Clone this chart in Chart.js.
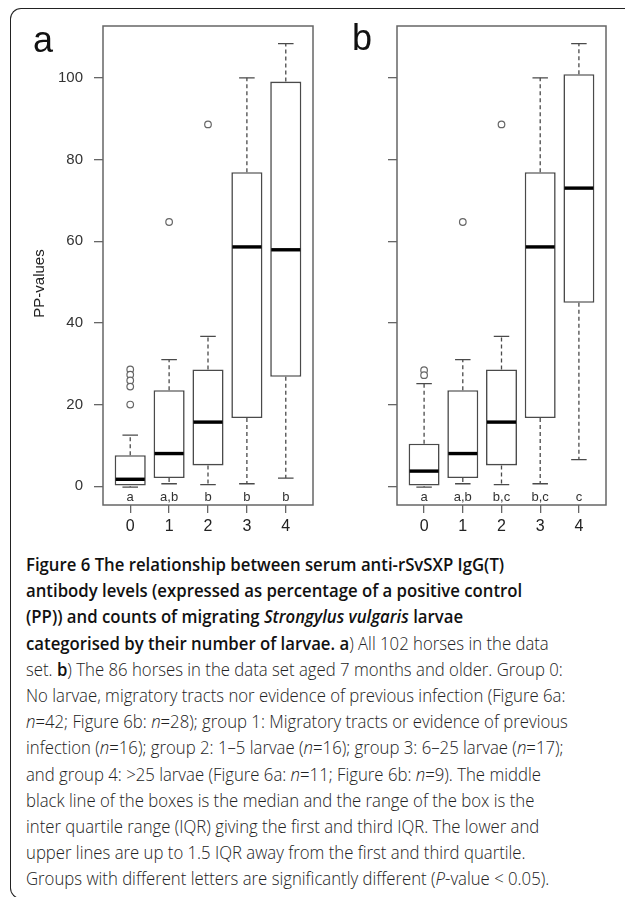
<!DOCTYPE html>
<html>
<head>
<meta charset="utf-8">
<script src="https://cdn.jsdelivr.net/npm/chart.js@4.4.1/dist/chart.umd.min.js"></script>
<style>
  body { margin: 0; background: #fff; width: 625px; height: 897px; overflow: hidden; position: relative; font-family: "Liberation Sans", Arial, sans-serif; }
  .frame { position: absolute; left: 10px; top: 8px; width: 660px; height: 889px; border: 1.5px solid #222; border-right: none; border-radius: 11px 0 0 11px; }
  #wrapA { position: absolute; left: 0; top: 0; width: 320px; height: 545px; }
  #wrapB { position: absolute; left: 300px; top: 0; width: 325px; height: 545px; }
  .panel { position: absolute; font-size: 36px; line-height: 1; color: #111; }
  .caption { position: absolute; left: 26px; top: 551px; font-family: "Open Sans", sans-serif; font-size: 18px; font-weight: 300; line-height: 26.2px; color: #222; white-space: nowrap; transform-origin: left top; transform: scaleX(0.93); }
  .caption b { font-weight: 600; color: #111; }
</style>
</head>
<body>
<div class="frame"></div>
<div id="wrapA"><canvas id="chartA"></canvas></div>
<div id="wrapB"><canvas id="chartB"></canvas></div>
<div class="panel" style="left:33px;top:22px;">a</div>
<div class="panel" style="left:352px;top:20px;">b</div>
<div class="caption">
<b>Figure 6 The relationship between serum anti-rSvSXP IgG(T)</b><br>
<b>antibody levels (expressed as percentage of a positive control</b><br>
<b>(PP)) and counts of migrating <i>Strongylus vulgaris</i> larvae</b><br>
<b>categorised by their number of larvae. a</b>) All 102 horses in the data<br>
set. <b>b</b>) The 86 horses in the data set aged 7 months and older. Group 0:<br>
No larvae, migratory tracts nor evidence of previous infection (Figure 6a:<br>
<i>n</i>=42; Figure 6b: <i>n</i>=28); group 1: Migratory tracts or evidence of previous<br>
infection (<i>n</i>=16); group 2: 1–5 larvae (<i>n</i>=16); group 3: 6–25 larvae (<i>n</i>=17);<br>
and group 4: &gt;25 larvae (Figure 6a: <i>n</i>=11; Figure 6b: <i>n</i>=9). The middle<br>
black line of the boxes is the median and the range of the box is the<br>
inter quartile range (IQR) giving the first and third IQR. The lower and<br>
upper lines are up to 1.5 IQR away from the first and third quartile.<br>
Groups with different letters are significantly different (<i>P</i>-value &lt; 0.05).
</div>
<script>
const groups = ["0", "1", "2", "3", "4"];
const yTicks = [0, 20, 40, 60, 80, 100];

// a) all 102 horses
const aLow = [-0.2, 0.6, 0.4, 0.6, 2.0];
const aQ1 = [0, 2.0, 5.1, 16.7, 26.8];
const aMed = [1.7, 8.0, 15.7, 58.6, 57.9];
const aQ3 = [7.6, 23.5, 28.6, 76.9, 99.1];
const aHigh = [12.5, 31.0, 36.7, 100, 108.4];
const aOutGroup = [0, 0, 0, 0, 0, 1, 2];
const aOutValue = [28.6, 27.3, 25.9, 24.4, 20.0, 64.7, 88.6];
const aLetters = ["a", "a,b", "b", "b", "b"];

// b) 86 horses aged 7 months and older
const bLow = [-0.2, 0.6, 0.4, 0.6, 6.5];
const bQ1 = [0, 2.0, 5.1, 16.7, 44.9];
const bMed = [3.7, 8.0, 15.7, 58.6, 73.0];
const bQ3 = [10.4, 23.5, 28.6, 76.9, 100.9];
const bHigh = [25.1, 31.0, 36.7, 100, 108.4];
const bOutGroup = [0, 0, 1, 2];
const bOutValue = [28.4, 27.2, 64.7, 88.6];
const bLetters = ["a", "a,b", "b,c", "b,c", "c"];

const gray = "#4a4a4a";

// whiskers, staples, medians, frame and letters
const boxParts = {
  id: "boxParts",
  afterDatasetsDraw(chart, args, o) {
    const { ctx, chartArea: area, scales: { x, y } } = chart;
    const bars = chart.getDatasetMeta(0).data;
    ctx.save();
    groups.forEach((g, i) => {
      const cx = x.getPixelForValue(i);
      const w = bars[i].width;
      ctx.strokeStyle = gray;
      ctx.lineWidth = 1.3;
      ctx.setLineDash([4, 3]);
      ctx.beginPath();
      ctx.moveTo(cx, y.getPixelForValue(o.q3[i]));
      ctx.lineTo(cx, y.getPixelForValue(o.high[i]));
      ctx.moveTo(cx, y.getPixelForValue(o.q1[i]));
      ctx.lineTo(cx, y.getPixelForValue(o.low[i]));
      ctx.stroke();
      ctx.setLineDash([]);
      ctx.beginPath();
      [o.high[i], o.low[i]].forEach(v => {
        ctx.moveTo(cx - w / 4, y.getPixelForValue(v));
        ctx.lineTo(cx + w / 4, y.getPixelForValue(v));
      });
      ctx.stroke();
      ctx.strokeStyle = "#000";
      ctx.lineWidth = 3.4;
      ctx.beginPath();
      ctx.moveTo(cx - w / 2 + 1, y.getPixelForValue(o.med[i]));
      ctx.lineTo(cx + w / 2 - 1, y.getPixelForValue(o.med[i]));
      ctx.stroke();
      ctx.fillStyle = "#333";
      ctx.font = "13px 'Liberation Sans', Arial";
      ctx.textAlign = "center";
      ctx.textBaseline = "middle";
      ctx.fillText(o.letters[i], cx, area.bottom - 8);
    });
    ctx.strokeStyle = "#666";
    ctx.lineWidth = 1.5;
    ctx.strokeRect(area.left, area.top, area.right - area.left, area.bottom - area.top);
    if (o.ylab) {
      ctx.translate(area.left - 63, (area.top + area.bottom) / 2 + 18);
      ctx.rotate(-Math.PI / 2);
      ctx.fillStyle = "#222";
      ctx.font = "15px 'Liberation Sans', Arial";
      ctx.fillText(o.ylab, 0, 0);
    }
    ctx.restore();
  }
};

function makeChart(id, d, axisWidth, rightPad, showLabels) {
  return new Chart(id, {
    type: "bar",
    data: {
      datasets: [
        {
          data: groups.map((g, i) => ({ x: i, y: [d.q1[i], d.q3[i]] })),
          backgroundColor: "#fff",
          borderColor: gray,
          borderWidth: 1.6,
          borderSkipped: false,
          barPercentage: 0.8,
          categoryPercentage: 1,
        },
        {
          type: "scatter",
          data: d.outGroup.map((g, k) => ({ x: g, y: d.outValue[k] })),
          pointStyle: "circle",
          pointRadius: 3.3,
          pointBorderColor: "#666",
          pointBackgroundColor: "#fff",
          pointBorderWidth: 1.2,
        },
      ],
    },
    options: {
      responsive: true,
      maintainAspectRatio: false,
      animation: false,
      layout: { padding: { top: 26, right: rightPad, left: 0, bottom: 0 } },
      plugins: { legend: { display: false }, tooltip: { enabled: false }, boxParts: d },
      scales: {
        x: {
          type: "linear",
          min: -0.7,
          max: 4.7,
          offset: false,
          afterBuildTicks: s => { s.ticks = groups.map((g, i) => ({ value: i })); },
          afterFit: s => { s.height = 40; },
          ticks: { callback: v => groups[v], font: { size: 16, family: "'Liberation Sans', Arial" }, color: "#222", padding: 4, maxRotation: 0, autoSkip: false },
          grid: { offset: false, drawOnChartArea: false, tickLength: 8, color: "#666", lineWidth: 1.3 },
          border: { display: false },
        },
        y: {
          min: -4.6,
          max: 112.7,
          afterBuildTicks: s => { s.ticks = yTicks.map(v => ({ value: v })); },
          afterFit: s => { s.width = axisWidth; },
          ticks: { callback: v => (showLabels ? String(v) : ""), font: { size: 15, family: "'Liberation Sans', Arial" }, color: "#333", padding: 11 },
          grid: { drawOnChartArea: false, tickLength: 9, color: "#666", lineWidth: 1.3 },
          border: { display: false },
        },
      },
    },
    plugins: [boxParts],
  });
}

makeChart("chartA", { low: aLow, q1: aQ1, med: aMed, q3: aQ3, high: aHigh, outGroup: aOutGroup, outValue: aOutValue, letters: aLetters, ylab: "PP-values" }, 103, 7, true);
makeChart("chartB", { low: bLow, q1: bQ1, med: bMed, q3: bQ3, high: bHigh, outGroup: bOutGroup, outValue: bOutValue, letters: bLetters, ylab: "" }, 97, 19, false);
</script>
</body>
</html>
